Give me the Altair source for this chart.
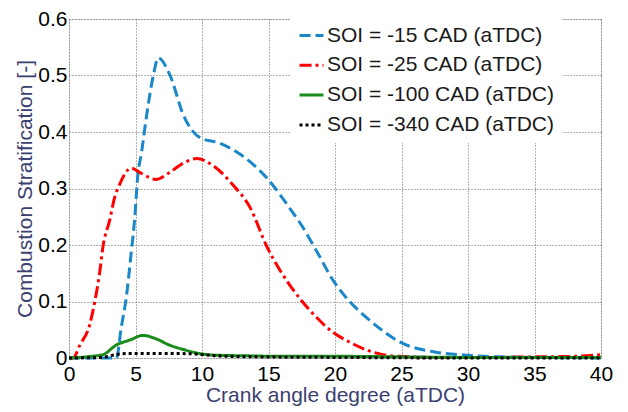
import altair as alt
import pandas as pd

series_names = [
    "SOI = -15 CAD (aTDC)",
    "SOI = -25 CAD (aTDC)",
    "SOI = -100 CAD (aTDC)",
    "SOI = -340 CAD (aTDC)",
]
colors = ["#1a87c8", "#ff0000", "#1a8c1a", "#000000"]
dashes = [[11, 5], [12, 4, 3, 4], [1, 0], [3, 3]]

x_soi15 = [0, 1, 2, 3, 3.56, 3.93, 4.3, 4.68, 4.93, 5.18, 5.43, 5.84, 6.34, 6.71, 7.6, 8.6, 9.85,
           11.35, 12.9, 14.9, 16.6, 17.4, 18.6, 19.87, 21.1, 22.4, 23.6, 24.9, 27.4, 29.9, 32.4, 35, 37.5, 40]
y_soi15 = [0, 0, 0, 0, 0, 0.054, 0.106, 0.187, 0.244, 0.325, 0.36, 0.43, 0.50, 0.531, 0.50, 0.43, 0.39,
           0.38, 0.36, 0.318, 0.265, 0.238, 0.19, 0.137, 0.1, 0.071, 0.048, 0.028, 0.011, 0.005, 0.002, 0.001, 0.0005, 0]

x_soi25 = [0, 0.3, 0.82, 1.57, 1.94, 2.31, 2.56, 3.06, 3.43, 3.8, 4.68, 5.42, 6.54, 7.54, 8.6, 9.6,
           10.8, 12.3, 13.6, 14.86, 16.6, 17.4, 18.6, 19.87, 21.1, 22.4, 23.6, 24.9, 28, 32, 35, 38, 40]
y_soi25 = [0, 0.0, 0.023, 0.06, 0.10, 0.152, 0.198, 0.244, 0.284, 0.307, 0.336, 0.327, 0.316, 0.328, 0.345, 0.353,
           0.341, 0.307, 0.267, 0.198, 0.129, 0.104, 0.072, 0.045, 0.028, 0.014, 0.006, 0.003, 0.001, 0.001, 0.002, 0.003, 0.006]

x_soi100 = [0, 1.7, 2.56, 3.56, 4.6, 5.55, 6.54, 7.54, 8.6, 9.8, 11.0, 13, 16, 20, 25, 30, 35, 40]
y_soi100 = [0, 0.003, 0.006, 0.023, 0.032, 0.04, 0.034, 0.023, 0.015, 0.008, 0.005, 0.004, 0.003, 0.003, 0.002, 0.001, 0.001, 0.001]

x_soi340 = [0, 2.5, 3.5, 4.5, 6, 8, 9.5, 11, 14, 20, 30, 40]
y_soi340 = [0, 0.001, 0.006, 0.008, 0.008, 0.008, 0.007, 0.004, 0.002, 0.001, 0.0, 0.0]

x_ticks = [0, 5, 10, 15, 20, 25, 30, 35, 40]
y_ticks = [0, 0.1, 0.2, 0.3, 0.4, 0.5, 0.6]

rows = []
for name, xs, ys in zip(series_names,
                        [x_soi15, x_soi25, x_soi100, x_soi340],
                        [y_soi15, y_soi25, y_soi100, y_soi340]):
    for xv, yv in zip(xs, ys):
        rows.append({"series": name, "x": xv, "y": yv})
df = pd.DataFrame(rows)

title_color = "#3b4170"
font = "Liberation Sans"

legend_cfg = dict(title=None, orient="none", legendX=221, legendY=-5,
                  fillColor="white", padding=8, rowPadding=5.8,
                  labelFontSize=21, labelFont=font, labelColor="#1a1a1a",
                  symbolType="stroke", symbolSize=576, symbolStrokeWidth=3,
                  labelOffset=2, labelLimit=400)

chart = alt.Chart(df).mark_line(strokeWidth=3, interpolate="monotone").encode(
    x=alt.X("x:Q", scale=alt.Scale(domain=[0, 40], nice=False),
            axis=alt.Axis(values=x_ticks, title="Crank angle degree (aTDC)",
                          labelFontSize=21, titleFontSize=21, labelPadding=5,
                          titlePadding=0, ticks=False, labelColor="black",
                          titleColor=title_color, titleFontWeight="normal",
                          labelFont=font, titleFont=font, labelFlush=False,
                          grid=True, gridDash=[1, 2], gridColor="#555555", gridOpacity=0.9,
                          domain=False)),
    y=alt.Y("y:Q", scale=alt.Scale(domain=[0, 0.6], nice=False),
            axis=alt.Axis(values=y_ticks, title="Combustion Stratification [-]",
                          labelExpr="datum.value == 0 ? '0' : format(datum.value, '.1f')",
                          labelFontSize=21, titleFontSize=21, labelPadding=2,
                          titlePadding=2, ticks=False, labelColor="black",
                          titleColor=title_color, titleFontWeight="normal",
                          labelFont=font, titleFont=font, labelFlush=False,
                          grid=True, gridDash=[1, 2], gridColor="#555555", gridOpacity=0.9,
                          domain=False)),
    color=alt.Color("series:N", sort=series_names,
                    scale=alt.Scale(domain=series_names, range=colors),
                    legend=alt.Legend(**legend_cfg)),
    strokeDash=alt.StrokeDash("series:N", sort=series_names,
                              scale=alt.Scale(domain=series_names, range=dashes),
                              legend=alt.Legend(**legend_cfg)),
).properties(
    width=532, height=339,
    autosize=alt.AutoSizeParams(type="none"),
    padding={"left": 61, "top": 11, "right": 18, "bottom": 52},
).configure_view(
    stroke="black", strokeWidth=1.2
).configure(background="white")

chart.save("out.html", embed_options={"renderer": "svg", "actions": False})
